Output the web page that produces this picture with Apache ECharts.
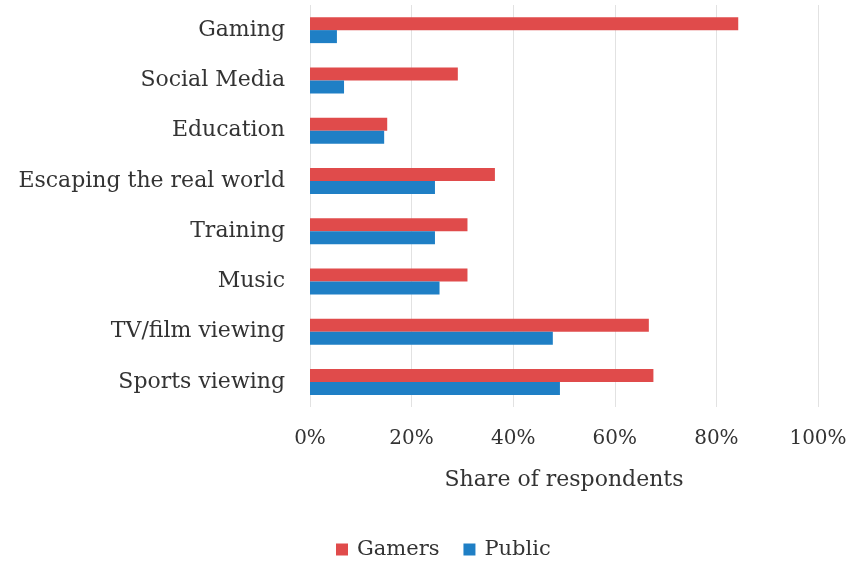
<!DOCTYPE html>
<html>
<head>
<meta charset="utf-8">
<script src="https://cdn.jsdelivr.net/npm/echarts@6/dist/echarts.min.js"></script>
<style>
  html, body { margin: 0; padding: 0; background: #fff; }
  #chart { width: 853px; height: 561px; }
</style>
</head>
<body>
<div id="chart"></div>
<script>
// categories top to bottom
var categories = ["Gaming", "Social Media", "Education", "Escaping the real world",
  "Training", "Music", "TV/film viewing", "Sports viewing"];
// share of respondents, %
var gamers = [84.3, 29.1, 15.2, 36.4, 31.0, 31.0, 66.7, 67.6];
var publicShare = [5.3, 6.7, 14.6, 24.6, 24.6, 25.5, 47.8, 49.2];

var font = "DejaVu Serif";
var txtColor = "#333333";
var chart = echarts.init(document.getElementById("chart"));

var option = {
  animation: false,
  textStyle: { fontFamily: font },
  grid: {
    left: 310,
    right: 35,
    top: 5,
    bottom: 154,
    containLabel: false
  },
  legend: {
    data: ["Gamers", "Public"],
    top: 534,
    left: 331,
    icon: "rect",
    itemWidth: 12,
    itemHeight: 12,
    itemGap: 24,
    textStyle: { fontFamily: font, fontSize: 21, color: txtColor, padding: [0, 0, 0, 4] }
  },
  xAxis: {
    type: "value",
    min: 0,
    max: 100,
    interval: 20,
    name: "Share of respondents",
    nameLocation: "middle",
    nameGap: 62,
    nameTextStyle: { fontFamily: font, fontSize: 22, color: txtColor },
    axisLine: { show: false },
    axisTick: { show: false },
    axisLabel: {
      formatter: "{value}%",
      margin: 22,
      fontFamily: font,
      fontSize: 20,
      color: txtColor
    },
    splitLine: { lineStyle: { color: "#e2e2e2", width: 1 } }
  },
  yAxis: {
    type: "category",
    data: categories,
    inverse: true,
    axisLine: { show: false },
    axisTick: { show: false },
    axisLabel: {
      margin: 25,
      fontFamily: font,
      fontSize: 22,
      color: txtColor
    }
  },
  series: [
    {
      name: "Gamers",
      type: "bar",
      data: gamers,
      barWidth: 13,
      barGap: "0%",
      itemStyle: { color: "#e04b4b" }
    },
    {
      name: "Public",
      type: "bar",
      data: publicShare,
      barWidth: 13,
      barGap: "0%",
      itemStyle: { color: "#1f7fc5" }
    }
  ]
};

chart.setOption(option);
</script>
</body>
</html>
